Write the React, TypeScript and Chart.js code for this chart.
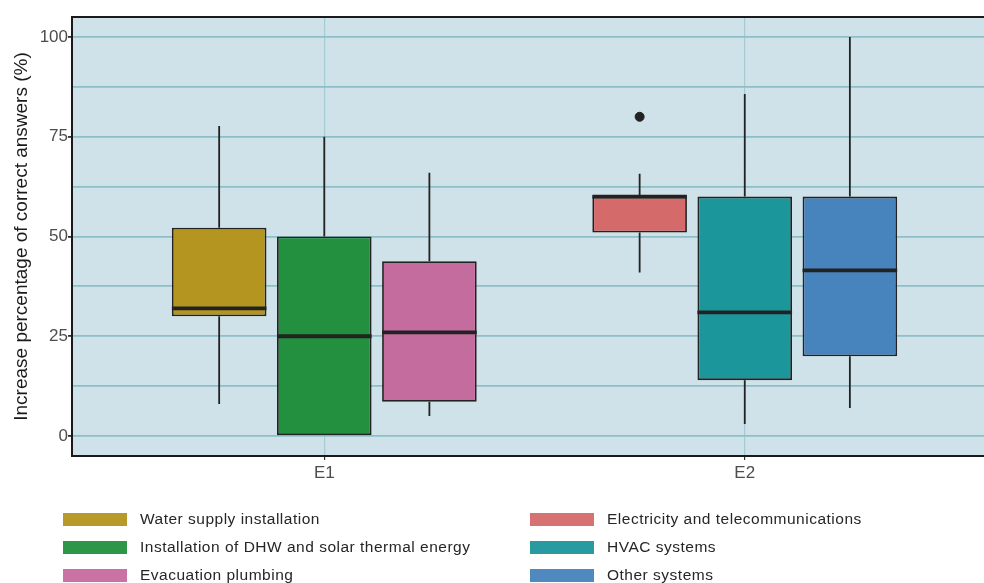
import React, { useEffect, useRef } from "react";
import { Chart, registerables } from "chart.js";

Chart.register(...registerables);

const CATEGORIES = ["E1", "E2"];
const SERIES = [
  "Water supply installation",
  "Installation of DHW and solar thermal energy",
  "Evacuation plumbing",
  "Electricity and telecommunications",
  "HVAC systems",
  "Other systems",
];
const GROUP = [0, 0, 0, 1, 1, 1];
const SLOT = [-1, 0, 1, -1, 0, 1];
const LOWER = [8, 0, 5, 41, 3, 7];
const Q1 = [30, 0, 8.6, 51, 14, 20];
const MEDIAN = [32, 25, 26, 60, 31, 41.5];
const Q3 = [52.2, 50, 43.8, 60, 60, 60];
const UPPER = [77.7, 75, 66, 65.7, 85.7, 100];
const OUTLIERS = [[], [], [], [80], [], []];
const COLORS = ["#b3951f", "#22903f", "#c56c9f", "#d46a6a", "#1b969b", "#4783bd"];
const Y_TICKS = [0, 12.5, 25, 37.5, 50, 62.5, 75, 87.5, 100];
const Y_LABELED = [0, 25, 50, 75, 100];

const FONT = '"Liberation Sans", Arial, sans-serif';
const DODGE = 0.75 / 3;
const BOX_HALF = (DODGE * 0.9) / 2;

const xPos = (i: number) => GROUP[i] + 1 + SLOT[i] * DODGE;

export default function App() {
  const ref = useRef<HTMLCanvasElement | null>(null);

  useEffect(() => {
    if (!ref.current) return;

    const boxSets = SERIES.map((name, i) => ({
      type: "bar" as const,
      label: name,
      data: [{ x: xPos(i), y: [Q1[i], Q3[i]] }],
      backgroundColor: COLORS[i],
      borderColor: "#222222",
      borderWidth: 1.8,
      borderSkipped: false,
      grouped: false,
      barPercentage: 0.9,
      categoryPercentage: 1,
      order: 2,
    }));

    const whiskerData: any[] = [];
    SERIES.forEach((_, i) => {
      const x = xPos(i);
      whiskerData.push({ x, y: LOWER[i] }, { x, y: Q1[i] }, { x, y: null });
      whiskerData.push({ x, y: Q3[i] }, { x, y: UPPER[i] }, { x, y: null });
    });

    const medianData: any[] = [];
    SERIES.forEach((_, i) => {
      const x = xPos(i);
      medianData.push({ x: x - BOX_HALF, y: MEDIAN[i] }, { x: x + BOX_HALF, y: MEDIAN[i] }, { x, y: null });
    });

    const outlierData: any[] = [];
    SERIES.forEach((_, i) => {
      OUTLIERS[i].forEach((v) => outlierData.push({ x: xPos(i), y: v }));
    });

    const panelPlugin = {
      id: "panel",
      beforeDraw(chart: any) {
        const { ctx, chartArea: a } = chart;
        ctx.save();
        ctx.fillStyle = "#cfe2e9";
        ctx.fillRect(a.left, a.top, a.right - a.left, a.bottom - a.top);
        ctx.restore();
      },
      afterDraw(chart: any) {
        const { ctx, chartArea: a } = chart;
        ctx.save();
        ctx.strokeStyle = "#1a1a1a";
        ctx.lineWidth = 2;
        ctx.beginPath();
        ctx.moveTo(a.right + 2, a.top);
        ctx.lineTo(a.left, a.top);
        ctx.lineTo(a.left, a.bottom);
        ctx.lineTo(a.right + 2, a.bottom);
        ctx.stroke();
        ctx.restore();
      },
    };

    const chart = new Chart(ref.current, {
      data: {
        datasets: [
          ...boxSets,
          {
            type: "line" as const,
            label: "whiskers",
            data: whiskerData,
            borderColor: "#222222",
            borderWidth: 1.8,
            pointRadius: 0,
            spanGaps: false,
            order: 3,
          },
          {
            type: "line" as const,
            label: "medians",
            data: medianData,
            borderColor: "#222222",
            borderWidth: 3.8,
            pointRadius: 0,
            spanGaps: false,
            borderCapStyle: "butt",
            order: 1,
          },
          {
            type: "scatter" as const,
            label: "outliers",
            data: outlierData,
            backgroundColor: "#222222",
            borderColor: "#222222",
            pointRadius: 4.5,
            order: 0,
          },
        ] as any,
      },
      options: {
        responsive: false,
        animation: false,
        layout: { autoPadding: false, padding: { top: 17, right: 0, bottom: 97, left: 0 } },
        plugins: {
          legend: { display: false },
          tooltip: { enabled: false },
        },
        scales: {
          x: {
            type: "linear",
            min: 0.4,
            max: 2.569,
            offset: false,
            afterBuildTicks: (s: any) => {
              s.ticks = CATEGORIES.map((_, i) => ({ value: i + 1 }));
            },
            afterFit: (s: any) => {
              s.height = 30;
              s.paddingLeft = 0;
              s.paddingRight = 0;
            },
            ticks: {
              callback: (v: any) => CATEGORIES[Math.round(Number(v)) - 1] ?? "",
              font: { family: FONT, size: 17 },
              color: "#4d4d4d",
              padding: 3,
              maxRotation: 0,
              autoSkip: false,
            },
            grid: {
              offset: false,
              color: "#a4cad2",
              lineWidth: 1.2,
              tickColor: "#333333",
              tickLength: 4,
              drawTicks: true,
            },
            border: { display: false },
          },
          y: {
            type: "linear",
            min: -5,
            max: 105,
            afterBuildTicks: (s: any) => {
              s.ticks = Y_TICKS.map((v) => ({ value: v }));
            },
            afterFit: (s: any) => {
              s.width = 72;
            },
            ticks: {
              callback: (v: any) => (Y_LABELED.includes(Number(v)) ? String(v) : ""),
              font: { family: FONT, size: 17 },
              color: "#4d4d4d",
              padding: 0,
              autoSkip: false,
            },
            grid: {
              color: "#8ebfc7",
              lineWidth: 1.8,
              tickColor: (c: any) =>
                c.tick && Y_LABELED.includes(c.tick.value) ? "#333333" : "rgba(0,0,0,0)",
              tickLength: 4,
            },
            border: { display: false },
            title: {
              display: true,
              text: "Increase percentage of correct answers (%)",
              font: { family: FONT, size: 19 },
              color: "#1a1a1a",
              padding: { top: 10, bottom: 0 },
            },
          },
        },
      } as any,
      plugins: [panelPlugin],
    });

    return () => chart.destroy();
  }, []);

  const legendRow = (i: number, col: number, row: number) => (
    <div
      key={i}
      style={{
        position: "absolute",
        left: col === 0 ? 63 : 530,
        top: 512 + row * 28,
        height: 14,
        display: "flex",
        alignItems: "center",
        whiteSpace: "nowrap",
      }}
    >
      <span
        style={{
          display: "inline-block",
          width: 64,
          height: 13,
          background: COLORS[i],
          opacity: 0.95,
        }}
      />
      <span
        style={{
          marginLeft: 13,
          fontFamily: FONT,
          fontSize: 15.5,
          letterSpacing: 0.5,
          color: "#262626",
          lineHeight: "14px",
        }}
      >
        {SERIES[i]}
      </span>
    </div>
  );

  return (
    <div
      style={{
        position: "fixed",
        left: 0,
        top: 0,
        width: 984,
        height: 583,
        overflow: "hidden",
        background: "#ffffff",
      }}
    >
      <canvas ref={ref} width={984} height={583} style={{ display: "block" }} />
      {SERIES.map((_, i) => legendRow(i, i < 3 ? 0 : 1, i % 3))}
    </div>
  );
}
